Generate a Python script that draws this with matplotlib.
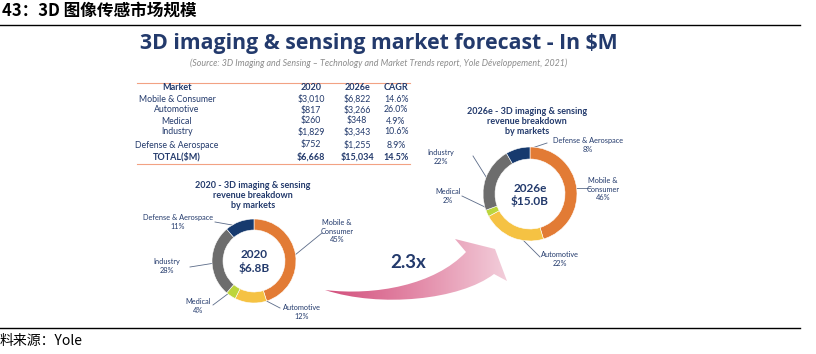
import numpy as np
import matplotlib.pyplot as plt
from matplotlib.path import Path
from matplotlib.patches import PathPatch
from matplotlib.colors import LinearSegmentedColormap

W, H = 816, 354

# ----- data -----
markets = ["Mobile & Consumer", "Automotive", "Medical", "Industry", "Defense & Aerospace"]
rev_2020 = [3010, 817, 260, 1829, 752]
rev_2026 = [6822, 3266, 348, 3343, 1255]
cagr = [14.6, 26.0, 4.9, 10.6, 8.9]
total_2020 = 6668
total_2026 = 15034
total_cagr = 14.5

donut_names = ["Mobile &\nConsumer", "Automotive", "Medical", "Industry", "Defense & Aerospace"]
share_2020 = [45, 12, 4, 28, 11]
share_2026 = [46, 22, 2, 22, 8]

colors = ["#e27b35", "#f5c243", "#bcd53c", "#6d6d6d", "#173a6e"]
NAVY = "#233a6c"
LEAD = "#5b6b88"
CJK = ['Noto Sans CJK SC', 'DejaVu Sans']

plt.rcParams['font.family'] = ['Lato', 'DejaVu Sans']

fig = plt.figure(figsize=(W / 100, H / 100), dpi=100)
ax = fig.add_axes([0, 0, 1, 1])

# ----- page header / footer -----
ax.text(2, 11, "43：3D 图像传感市场规模", fontsize=12, fontweight='bold',
        family=CJK, va='center', ha='left', color='black')
ax.plot([0, 800], [25, 25], color='black', lw=1.0)
ax.plot([0, 800], [328, 328], color='black', lw=1.0)
ax.text(0, 341, "料来源：Yole", fontsize=10, family=CJK, va='center', ha='left', color='black')

# ----- slide title -----
ax.text(379, 44, "3D imaging & sensing market forecast - In $M", fontsize=15.3,
        fontweight='bold', family=['Open Sans', 'DejaVu Sans'], color=NAVY,
        ha='center', va='center')
ax.text(379, 63, "(Source: 3D Imaging and Sensing – Technology and Market Trends report, "
        "Yole Développement, 2021)", fontsize=6.4, style='italic', color='#8c8c8c',
        ha='center', va='center')

# ----- table -----
col_x = [177, 311, 357, 396]
head_y = 88
row_y = [99, 110, 121, 132, 145]
total_y = 157
ax.plot([137, 410], [83, 83], color='#f2a283', lw=0.8)
ax.plot([137, 410], [164, 164], color='#f2a283', lw=0.8)
for x, s in zip(col_x, ["Market", "2020", "2026e", "CAGR"]):
    ax.text(x, head_y, s, fontsize=6.5, fontweight='bold', color=NAVY, ha='center', va='center')
for y, name, a, b, c in zip(row_y, markets, rev_2020, rev_2026, cagr):
    for x, s in zip(col_x, [name, f"${a:,}", f"${b:,}", f"{c:.1f}%"]):
        ax.text(x, y, s, fontsize=6.3, color=NAVY, ha='center', va='center')
for x, s in zip(col_x, ["TOTAL($M)", f"${total_2020:,}", f"${total_2026:,}", f"{total_cagr:.1f}%"]):
    ax.text(x, total_y, s, fontsize=6.5, fontweight='bold', color=NAVY, ha='center', va='center')


# ----- donuts -----
def donut(cx, cy, r, ring, values, year, total):
    a = fig.add_axes([(cx - r) / W, (H - cy - r) / H, 2 * r / W, 2 * r / H])
    a.pie(values, colors=colors, startangle=90, counterclock=False, radius=1,
          wedgeprops=dict(width=ring / r, linewidth=0.4, edgecolor='white'))
    a.set_xlim(-1, 1)
    a.set_ylim(-1, 1)
    a.axis('off')
    ax.text(cx, cy - 6, year, fontsize=8.5, fontweight='bold', color=NAVY, ha='center', va='center')
    ax.text(cx, cy + 7, total, fontsize=8.5, fontweight='bold', color=NAVY, ha='center', va='center')
    return a


donut(254, 261, 42, 11, rev_2020, "2020", "$6.8B")
donut(530, 194, 47, 12, rev_2026, "2026e", "$15.0B")

for cx, ty, lines in [(253, 186, ["2020 - 3D imaging & sensing", "revenue breakdown", "by markets"]),
                      (527, 111, ["2026e - 3D imaging & sensing", "revenue breakdown", "by markets"])]:
    for i, s in enumerate(lines):
        ax.text(cx, ty + 10 * i, s, fontsize=6.5, fontweight='bold', color=NAVY,
                ha='center', va='center')

# label centre, leader line (start on ring -> end near label)
lab_2020 = [((337, 231), (295, 255), (322, 233)),
            ((302, 312), (255, 295), (280, 308)),
            ((198, 306), (233, 290), (213, 305)),
            ((167, 266), (215, 263), (190, 267)),
            ((178, 222), (232, 225), (215, 222))]
lab_2026 = [((603, 189), (572, 188), (590, 188)),
            ((560, 259), (515, 232), (540, 257)),
            ((448, 196), (487, 208), (462, 196)),
            ((441, 157), (488, 180), (473, 156)),
            ((588, 145), (532, 148), (547, 143))]
for labs, shares in [(lab_2020, share_2020), (lab_2026, share_2026)]:
    for (pos, p0, p1), name, sh in zip(labs, donut_names, shares):
        ax.plot([p0[0], p1[0]], [p0[1], p1[1]], color=LEAD, lw=0.6)
        ax.text(pos[0], pos[1], f"{name}\n{sh}%", fontsize=5.3, color=NAVY,
                ha='center', va='center', linespacing=1.25)

# ----- growth arrow -----
verts = [(325, 290), (375, 296), (435, 285), (466, 252),
         (455, 239), (495, 249), (507, 281), (494, 274),
         (460, 300), (380, 308), (325, 290), (325, 290)]
codes = [Path.MOVETO, Path.CURVE4, Path.CURVE4, Path.CURVE4,
         Path.LINETO, Path.LINETO, Path.LINETO, Path.LINETO,
         Path.CURVE4, Path.CURVE4, Path.CURVE4, Path.CLOSEPOLY]
arrow = PathPatch(Path(verts, codes), facecolor='none', edgecolor='none')
ax.add_patch(arrow)
pink = LinearSegmentedColormap.from_list("pink", ["#d24f7c", "#e38aa8", "#f3d0dc"])
grad = ax.imshow(np.linspace(0, 1, 256).reshape(1, -1), extent=(325, 510, 310, 235),
                 cmap=pink, aspect='auto', interpolation='bilinear')
grad.set_clip_path(arrow)
ax.text(408, 263, "2.3x", fontsize=13.5, fontweight='bold', color=NAVY, ha='center', va='center')

ax.set_xlim(0, W)
ax.set_ylim(H, 0)
ax.axis('off')

fig.savefig("out.png", dpi=100)
